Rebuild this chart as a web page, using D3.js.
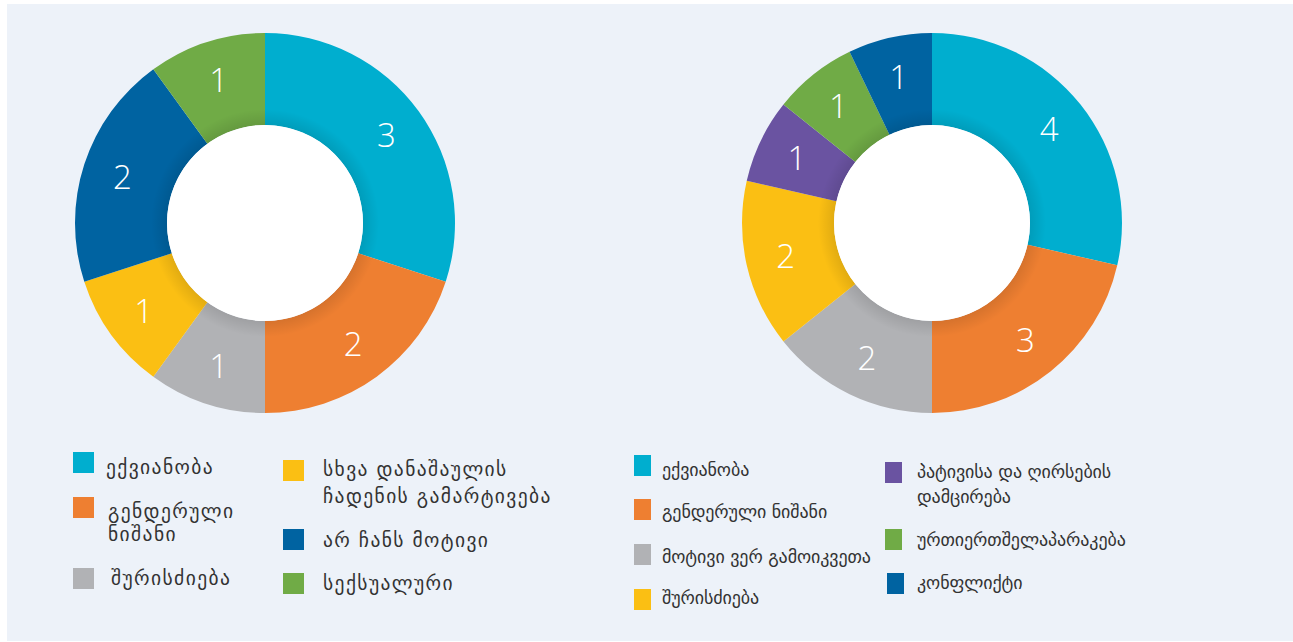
<!DOCTYPE html>
<html>
<head>
<meta charset="utf-8">
<script src="https://cdn.jsdelivr.net/npm/d3@7"></script>
<style>
  body { margin: 0; background: #ffffff; }
  svg { display: block; }
</style>
</head>
<body>
<div id="chart"></div>
<script>
// მონაცემები — მარცხენა დიაგრამა
const leftLabels = ["ექვიანობა", "გენდერული ნიშანი", "შურისძიება", "სხვა დანაშაულის ჩადენის გამარტივება", "არ ჩანს მოტივი", "სექსუალური"];
const leftValues = [3, 2, 1, 1, 2, 1];
const leftColors = ["#00aecf", "#ee7f31", "#b1b2b5", "#fbbf13", "#0063a1", "#70ab46"];

// მონაცემები — მარჯვენა დიაგრამა
const rightLabels = ["ექვიანობა", "გენდერული ნიშანი", "მოტივი ვერ გამოიკვეთა", "შურისძიება", "პატივისა და ღირსების დამცირება", "ურთიერთშელაპარაკება", "კონფლიქტი"];
const rightValues = [4, 3, 2, 2, 1, 1, 1];
const rightColors = ["#00aecf", "#ee7f31", "#b1b2b5", "#fbbf13", "#6a53a1", "#70ab46", "#0063a1"];

// ლეგენდის სტრიქონები (გადატანით)
const leftLegendLines = [["ექვიანობა"], ["გენდერული", "ნიშანი"], ["შურისძიება"], ["სხვა დანაშაულის", "ჩადენის გამარტივება"], ["არ ჩანს მოტივი"], ["სექსუალური"]];
const rightLegendLines = [["ექვიანობა"], ["გენდერული ნიშანი"], ["მოტივი ვერ გამოიკვეთა"], ["შურისძიება"], ["პატივისა და ღირსების", "დამცირება"], ["ურთიერთშელაპარაკება"], ["კონფლიქტი"]];

const width = 1293, height = 642;

var svg = d3.select("#chart").append("svg")
  .attr("width", width)
  .attr("height", height);

// ფონი
svg.append("rect")
  .attr("x", 7).attr("y", 4)
  .attr("width", width - 7).attr("height", height - 5)
  .attr("fill", "#edf2f9");

// შიდა ჩრდილი
var defs = svg.append("defs");
var grad = defs.append("radialGradient").attr("id", "shade")
  .attr("gradientUnits", "userSpaceOnUse")
  .attr("cx", 0).attr("cy", 0).attr("r", 190);
grad.append("stop").attr("offset", 0.5).attr("stop-color", "#000").attr("stop-opacity", 0.12);
grad.append("stop").attr("offset", 0.6).attr("stop-color", "#000").attr("stop-opacity", 0);
grad.append("stop").attr("offset", 1).attr("stop-color", "#000").attr("stop-opacity", 0);

function donut(cx, cy, values, colors) {
  var g = svg.append("g").attr("transform", "translate(" + cx + "," + cy + ")");
  var pie = d3.pie().sort(null).value(d => d);
  var arcs = pie(values);
  var arc = d3.arc().innerRadius(98).outerRadius(190);
  var labelArc = d3.arc().innerRadius(150).outerRadius(150);

  g.selectAll(".slice")
    .data(arcs)
    .enter().append("path")
    .attr("class", "slice")
    .attr("d", arc)
    .attr("fill", (d, i) => colors[i]);

  g.append("path")
    .attr("d", d3.arc().innerRadius(98).outerRadius(190).startAngle(0).endAngle(2 * Math.PI)())
    .attr("fill", "url(#shade)");

  g.append("circle").attr("r", 98).attr("fill", "#ffffff");

  g.selectAll(".lbl")
    .data(arcs)
    .enter().append("text")
    .attr("class", "lbl")
    .attr("transform", d => "translate(" + labelArc.centroid(d) + ")")
    .attr("text-anchor", "middle")
    .attr("dy", "0.36em")
    .attr("fill", "#ffffff")
    .attr("font-family", "'Open Sans', sans-serif")
    .attr("font-weight", 300)
    .attr("font-size", 33)
    .text(d => d.data);
}

donut(265, 223, leftValues, leftColors);
donut(932, 223, rightValues, rightColors);

// ლეგენდა
function legend(items, lines, colors, boxW, fontSize, spacing) {
  items.forEach(function(it) {
    var i = it.i;
    svg.append("rect")
      .attr("x", it.bx).attr("y", it.by)
      .attr("width", boxW).attr("height", 21)
      .attr("fill", colors[i]);
    var t = svg.append("text")
      .attr("x", it.tx).attr("y", it.ty)
      .attr("fill", "#333333")
      .attr("font-family", "'DejaVu Sans', sans-serif")
      .attr("font-size", fontSize)
      .attr("letter-spacing", spacing);
    lines[i].forEach(function(line, k) {
      t.append("tspan").attr("x", it.tx).attr("dy", k === 0 ? 0 : it.lh).text(line);
    });
  });
}

legend([
  {i: 0, bx: 73, by: 452, tx: 106, ty: 474, lh: 0},
  {i: 1, bx: 73, by: 497, tx: 108, ty: 518, lh: 23},
  {i: 2, bx: 73, by: 568, tx: 111, ty: 585, lh: 0},
  {i: 3, bx: 283, by: 460, tx: 323, ty: 476, lh: 27},
  {i: 4, bx: 283, by: 529, tx: 323, ty: 547, lh: 0},
  {i: 5, bx: 283, by: 573, tx: 323, ty: 590, lh: 0}
], leftLegendLines, leftColors, 21, 19.5, 1.4);

legend([
  {i: 0, bx: 634, by: 455, tx: 662, ty: 476, lh: 0},
  {i: 1, bx: 634, by: 499, tx: 662, ty: 518, lh: 0},
  {i: 2, bx: 634, by: 544, tx: 662, ty: 563, lh: 0},
  {i: 3, bx: 634, by: 589, tx: 662, ty: 604, lh: 0},
  {i: 4, bx: 885, by: 462, tx: 917, ty: 478, lh: 25},
  {i: 5, bx: 885, by: 529, tx: 917, ty: 546, lh: 0},
  {i: 6, bx: 887, by: 573, tx: 917, ty: 589, lh: 0}
], rightLegendLines, rightColors, 17, 18, -0.1);
</script>
</body>
</html>
